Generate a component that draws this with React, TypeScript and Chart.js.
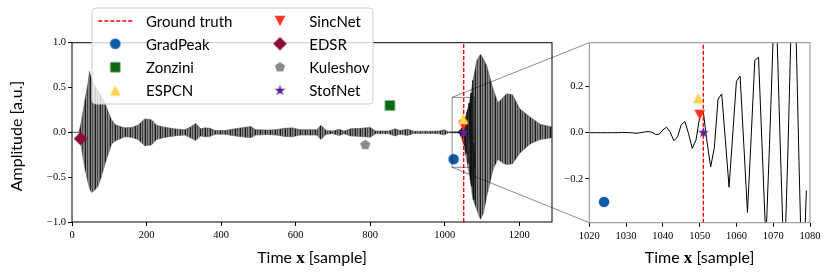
import React, { useEffect, useRef } from 'react';
import { Chart, registerables } from 'chart.js';
Chart.register(...registerables);

// ---------- data ----------
// envelope of the dense waveform (sample index, upper, lower)
const ENV_X = [0, 18, 22, 26, 35, 43, 47, 52, 60, 70, 79, 88, 97, 106, 115, 125, 141, 160, 177, 195, 213, 227, 245, 265, 285, 303, 318, 332, 345, 357, 370, 385, 410, 430, 455, 480, 493, 525, 548, 570, 590, 612, 640, 657, 668, 682, 700, 717, 730, 748, 775, 800, 815, 850, 867, 880, 900, 918, 960, 985, 998, 1010, 1035, 1041, 1046, 1051, 1056, 1061, 1066, 1071, 1076, 1086, 1096, 1104, 1113, 1122, 1130, 1143, 1155, 1166, 1182, 1202, 1229, 1256, 1288];
const ENV_UPPER = [0.002, 0.003, 0.06, 0.14, 0.37, 0.55, 0.68, 0.6, 0.53, 0.46, 0.4, 0.33, 0.23, 0.14, 0.09, 0.07, 0.05, 0.055, 0.08, 0.15, 0.14, 0.08, 0.06, 0.045, 0.035, 0.03, 0.06, 0.1, 0.04, 0.05, 0.045, 0.02, 0.02, 0.035, 0.05, 0.065, 0.03, 0.025, 0.03, 0.045, 0.05, 0.03, 0.03, 0.03, 0.08, 0.02, 0.015, 0.035, 0.015, 0.04, 0.045, 0.055, 0.015, 0.015, 0.04, 0.02, 0.035, 0.012, 0.012, 0.015, 0.03, 0.006, 0.006, 0.024, 0.05, 0.09, 0.17, 0.25, 0.33, 0.44, 0.58, 0.8, 0.87, 0.82, 0.74, 0.6, 0.48, 0.33, 0.38, 0.43, 0.42, 0.26, 0.17, 0.09, 0.06];
const ENV_LOWER = [-0.002, -0.003, -0.08, -0.19, -0.41, -0.56, -0.62, -0.67, -0.65, -0.6, -0.49, -0.36, -0.245, -0.13, -0.1, -0.08, -0.05, -0.055, -0.08, -0.15, -0.14, -0.08, -0.06, -0.045, -0.035, -0.03, -0.06, -0.09, -0.04, -0.05, -0.045, -0.02, -0.02, -0.035, -0.05, -0.06, -0.03, -0.025, -0.03, -0.045, -0.05, -0.03, -0.03, -0.03, -0.08, -0.02, -0.015, -0.035, -0.015, -0.04, -0.045, -0.055, -0.015, -0.015, -0.04, -0.02, -0.035, -0.012, -0.012, -0.015, -0.03, -0.006, -0.006, -0.02, -0.07, -0.15, -0.24, -0.35, -0.47, -0.6, -0.75, -0.86, -0.97, -0.9, -0.71, -0.55, -0.41, -0.3, -0.34, -0.36, -0.35, -0.23, -0.13, -0.08, -0.06];

// individual samples visible in the zoomed panel
const ZOOM_X = [1020, 1021, 1022, 1023, 1024, 1025, 1026, 1027, 1028, 1029, 1030, 1031, 1032, 1033, 1034, 1035, 1036, 1037, 1038, 1039, 1040, 1041, 1042, 1043, 1044, 1045, 1046, 1047, 1048, 1049, 1050, 1051, 1052, 1053, 1054, 1055, 1056, 1057, 1058, 1059, 1060, 1061, 1062, 1063, 1064, 1065, 1066, 1067, 1068, 1069, 1070, 1071, 1072, 1073, 1074, 1075, 1076, 1077, 1078, 1079];
const ZOOM_Y = [0, 0, 0, 0, 0, 0, 0, 0, 0, 0.001, 0.001, 0, -0.001, -0.002, 0, 0.003, 0.005, 0.002, -0.007, -0.007, 0.012, 0.024, 0.002, -0.035, -0.018, 0.035, 0.048, -0.005, -0.068, -0.032, 0.065, 0.09, -0.04, -0.148, -0.064, 0.146, 0.168, -0.034, -0.236, -0.006, 0.223, 0.245, -0.05, -0.345, -0.02, 0.314, 0.327, -0.07, -0.47, -0.05, 0.42, 0.44, -0.1, -0.6, -0.08, 0.55, 0.58, -0.12, -0.75, -0.25];

const GROUND_TRUTH_X = 1051;
const METHOD_NAMES = ['GradPeak', 'Zonzini', 'ESPCN', 'SincNet', 'EDSR', 'Kuleshov', 'StofNet'];
const METHOD_X = [1024, 853, 1049.6, 1050, 23, 787, 1051];
const METHOD_Y = [-0.3, 0.3, 0.15, 0.077, -0.07, -0.14, 0.0];
const METHOD_COLORS = ['#0C5DA5', '#086A10', '#FFD54E', '#FF3322', '#8B0A3C', '#8A8A8A', '#5C1F9E'];
const METHOD_SHAPES = ['circle', 'square', 'triUp', 'triDown', 'diamond', 'pentagon', 'star'];
const METHOD_SIZES = [5.3, 5, 5.3, 5.3, 6.8, 5.3, 5.8];

const MAIN_X_RANGE = [0, 1288];
const MAIN_Y_RANGE = [-1, 1];
const ZOOM_X_RANGE = [1020, 1080];
const ZOOM_Y_RANGE = [-0.39, 0.39];

// ---------- layout ----------
const W = 830, H = 277;
const MAIN_AREA = { left: 72, right: 552, top: 42.7, bottom: 222 };
const INSET_AREA = { left: 589.3, right: 810, top: 42.7, bottom: 222.7 };
const SANS = 'Lato, "Liberation Sans", sans-serif';
const SERIF = '"Liberation Serif", "DejaVu Serif", serif';

function markerPath(ctx: CanvasRenderingContext2D, shape: string, cx: number, cy: number, s: number) {
  ctx.beginPath();
  if (shape === 'circle') ctx.arc(cx, cy, s, 0, Math.PI * 2);
  else if (shape === 'square') ctx.rect(cx - s, cy - s, 2 * s, 2 * s);
  else if (shape === 'triUp') { ctx.moveTo(cx, cy - s); ctx.lineTo(cx + s, cy + s); ctx.lineTo(cx - s, cy + s); }
  else if (shape === 'triDown') { ctx.moveTo(cx, cy + s); ctx.lineTo(cx + s, cy - s); ctx.lineTo(cx - s, cy - s); }
  else if (shape === 'diamond') { ctx.moveTo(cx, cy - s); ctx.lineTo(cx + s, cy); ctx.lineTo(cx, cy + s); ctx.lineTo(cx - s, cy); }
  else if (shape === 'pentagon') {
    for (let k = 0; k < 5; k++) {
      const a = -Math.PI / 2 + (k * 2 * Math.PI) / 5;
      const px = cx + s * Math.cos(a), py = cy + s * Math.sin(a);
      if (k === 0) ctx.moveTo(px, py); else ctx.lineTo(px, py);
    }
  } else if (shape === 'star') {
    for (let k = 0; k < 10; k++) {
      const a = -Math.PI / 2 + (k * Math.PI) / 5;
      const r = k % 2 ? s * 0.381966 : s;
      const px = cx + r * Math.cos(a), py = cy + r * Math.sin(a);
      if (k === 0) ctx.moveTo(px, py); else ctx.lineTo(px, py);
    }
  }
  ctx.closePath();
}

function makeMarker(shape: string, color: string, s: number): HTMLCanvasElement {
  const size = Math.ceil(2 * s + 3);
  const c = document.createElement('canvas');
  c.width = size; c.height = size;
  const ctx = c.getContext('2d')!;
  ctx.fillStyle = color;
  markerPath(ctx, shape, size / 2, size / 2, s);
  ctx.fill();
  return c;
}

function fmtTick(v: number, digits: number) {
  return Number(v).toFixed(digits).replace('-', '\u2212');
}

function drawXTitle(ctx: CanvasRenderingContext2D, cx: number, baseline: number) {
  const parts = [
    { t: 'Time ', f: `16px ${SANS}` },
    { t: 'x', f: `bold 17px ${SERIF}` },
    { t: ' [sample]', f: `16px ${SANS}` },
  ];
  let total = 0;
  const widths = parts.map((p) => { ctx.font = p.f; const w = ctx.measureText(p.t).width; total += w; return w; });
  let x = cx - total / 2;
  ctx.fillStyle = '#000';
  ctx.textAlign = 'left';
  ctx.textBaseline = 'alphabetic';
  parts.forEach((p, i) => { ctx.font = p.f; ctx.fillText(p.t, x, baseline); x += widths[i]; });
}

export default function App() {
  const mainRef = useRef<HTMLCanvasElement>(null);
  const insetRef = useRef<HTMLCanvasElement>(null);

  useEffect(() => {
    const markers = METHOD_NAMES.map((_, i) => makeMarker(METHOD_SHAPES[i], METHOD_COLORS[i], METHOD_SIZES[i]));

    // stripe pattern imitating the dense oscillation
    const pc = document.createElement('canvas');
    pc.width = 5; pc.height = 1;
    const pctx = pc.getContext('2d')!;
    const stripe = ['#1a1a1a', '#8a8a8a', '#444444', '#8a8a8a', '#6a6a6a'];
    stripe.forEach((c, i) => { pctx.fillStyle = c; pctx.fillRect(i, 0, 1, 1); });
    const mctx = mainRef.current!.getContext('2d')!;
    const pattern = mctx.createPattern(pc, 'repeat')!;

    const upperPts = ENV_X.map((x, i) => ({ x, y: ENV_UPPER[i] }));
    const lowerPts = ENV_X.map((x, i) => ({ x, y: ENV_LOWER[i] }));
    const zoomPts = ZOOM_X.map((x, i) => ({ x, y: ZOOM_Y[i] }));

    const markerDatasets = (filterRange: number[] | null) =>
      METHOD_NAMES.map((name, i) => ({
        type: 'scatter' as const,
        label: name,
        data: (!filterRange || (METHOD_X[i] >= filterRange[0] && METHOD_X[i] <= filterRange[1])) ? [{ x: METHOD_X[i], y: METHOD_Y[i] }] : [],
        pointStyle: markers[i] as any,
        pointRadius: 6,
        pointHoverRadius: 6,
        order: 1,
      }));

    const tickFont = { family: SERIF, size: 10.5 };

    // ---------- inset ----------
    const insetPlugin = {
      id: 'insetDeco',
      afterDraw(chart: any) {
        const { ctx, chartArea: a } = chart;
        ctx.save();
        ctx.strokeStyle = '#8c8c8c';
        ctx.lineWidth = 1;
        ctx.strokeRect(a.left, a.top, a.right - a.left, a.bottom - a.top);
        drawXTitle(ctx, (a.left + a.right) / 2, 263.3);
        ctx.restore();
      },
    };

    const inset = new Chart(insetRef.current!, {
      type: 'scatter',
      data: {
        datasets: [
          ...markerDatasets(ZOOM_X_RANGE),
          {
            type: 'line', label: 'vline',
            data: [{ x: GROUND_TRUTH_X, y: ZOOM_Y_RANGE[0] }, { x: GROUND_TRUTH_X, y: ZOOM_Y_RANGE[1] }],
            borderColor: '#ff0000', borderWidth: 1.4, borderDash: [4, 2], pointRadius: 0, order: 2,
          },
          {
            type: 'line', label: 'signal', data: zoomPts,
            borderColor: '#000', borderWidth: 1, pointRadius: 0, order: 3,
          },
        ] as any,
      },
      options: {
        animation: false, responsive: false, events: [],
        plugins: { legend: { display: false }, tooltip: { enabled: false } },
        layout: { padding: { left: INSET_AREA.left - 30, right: W - INSET_AREA.right, top: INSET_AREA.top, bottom: 0 } },
        scales: {
          x: {
            type: 'linear', min: ZOOM_X_RANGE[0], max: ZOOM_X_RANGE[1],
            afterFit: (s: any) => { s.height = H - INSET_AREA.bottom; },
            grid: { display: true, drawOnChartArea: false, drawTicks: true, tickLength: 4, color: '#000' },
            border: { display: false },
            ticks: { stepSize: 10, includeBounds: false, font: tickFont, color: '#000', padding: 3, maxRotation: 0, autoSkip: false, callback: (v: any) => String(v) },
          },
          y: {
            type: 'linear', min: ZOOM_Y_RANGE[0], max: ZOOM_Y_RANGE[1],
            afterFit: (s: any) => { s.width = 30; },
            grid: { display: true, drawOnChartArea: false, drawTicks: true, tickLength: 4, color: '#000' },
            border: { display: false },
            ticks: { stepSize: 0.2, includeBounds: false, font: tickFont, color: '#000', padding: 2, callback: (v: any) => fmtTick(v, 1) },
          },
        },
      } as any,
      plugins: [insetPlugin],
    });

    // ---------- main ----------
    const mainPlugin = {
      id: 'mainDeco',
      afterDraw(chart: any) {
        const { ctx, chartArea: a, scales } = chart;
        const xs = scales.x, ys = scales.y;
        ctx.save();
        // axes frame
        ctx.strokeStyle = '#000';
        ctx.lineWidth = 1;
        ctx.strokeRect(a.left, a.top, a.right - a.left, a.bottom - a.top);
        // zoom indicator
        const rx0 = xs.getPixelForValue(ZOOM_X_RANGE[0]);
        const rx1 = xs.getPixelForValue(ZOOM_X_RANGE[1]);
        const ry0 = ys.getPixelForValue(ZOOM_Y_RANGE[1]);
        const ry1 = ys.getPixelForValue(ZOOM_Y_RANGE[0]);
        ctx.strokeStyle = 'rgba(0,0,0,0.45)';
        ctx.lineWidth = 1;
        ctx.strokeRect(rx0, ry0, rx1 - rx0, ry1 - ry0);
        const ia = inset.chartArea;
        ctx.beginPath();
        ctx.moveTo(rx0, ry0); ctx.lineTo(ia.left, ia.top);
        ctx.moveTo(rx0, ry1); ctx.lineTo(ia.left, ia.bottom);
        ctx.stroke();
        // legend
        const lx = a.left + 20, ly = 8, lw = 281, lh = 96;
        ctx.beginPath();
        const r = 4;
        ctx.moveTo(lx + r, ly);
        ctx.arcTo(lx + lw, ly, lx + lw, ly + lh, r);
        ctx.arcTo(lx + lw, ly + lh, lx, ly + lh, r);
        ctx.arcTo(lx, ly + lh, lx, ly, r);
        ctx.arcTo(lx, ly, lx + lw, ly, r);
        ctx.closePath();
        ctx.fillStyle = 'rgba(255,255,255,0.8)';
        ctx.fill();
        ctx.strokeStyle = '#cccccc';
        ctx.stroke();
        const entries = ['Ground truth', ...METHOD_NAMES];
        const rowY = [21, 43.7, 67.2, 90.5];
        const colHandle = [lx + 23.3, lx + 188];
        const colText = [lx + 54, lx + 217.3];
        ctx.font = `15px ${SANS}`;
        ctx.textAlign = 'left';
        ctx.textBaseline = 'middle';
        entries.forEach((label, k) => {
          const col = Math.floor(k / 4), row = k % 4;
          const hx = colHandle[col], hy = rowY[row];
          if (k === 0) {
            ctx.save();
            ctx.strokeStyle = '#ff0000';
            ctx.lineWidth = 1.4;
            ctx.setLineDash([4, 2]);
            ctx.beginPath();
            ctx.moveTo(hx - 17, hy); ctx.lineTo(hx + 17, hy);
            ctx.stroke();
            ctx.restore();
          } else {
            const m = markers[k - 1];
            ctx.drawImage(m, hx - m.width / 2, hy - m.height / 2);
          }
          ctx.fillStyle = '#000';
          ctx.fillText(label, colText[col], hy + 1);
        });
        // titles
        drawXTitle(ctx, (a.left + a.right) / 2, 263.3);
        ctx.save();
        ctx.translate(22, 136);
        ctx.rotate(-Math.PI / 2);
        ctx.font = `16px ${SANS}`;
        ctx.textAlign = 'center';
        ctx.textBaseline = 'alphabetic';
        ctx.fillStyle = '#000';
        ctx.fillText('Amplitude [a.u.]', 0, 0);
        ctx.restore();
        ctx.restore();
      },
    };

    const main = new Chart(mainRef.current!, {
      type: 'scatter',
      data: {
        datasets: [
          {
            type: 'line', label: 'upper', data: upperPts,
            borderColor: '#555555', borderWidth: 0.6, pointRadius: 0,
            fill: '+1', backgroundColor: pattern, order: 5,
          },
          {
            type: 'line', label: 'lower', data: lowerPts,
            borderColor: '#555555', borderWidth: 0.6, pointRadius: 0, fill: false, order: 5,
          },
          {
            type: 'line', label: 'signal', data: zoomPts,
            borderColor: '#111', borderWidth: 0.8, pointRadius: 0, order: 4,
          },
          {
            type: 'line', label: 'vline',
            data: [{ x: GROUND_TRUTH_X, y: MAIN_Y_RANGE[0] }, { x: GROUND_TRUTH_X, y: MAIN_Y_RANGE[1] }],
            borderColor: '#ff0000', borderWidth: 1.4, borderDash: [4, 2], pointRadius: 0, order: 2,
          },
          ...markerDatasets(null),
        ] as any,
      },
      options: {
        animation: false, responsive: false, events: [],
        plugins: { legend: { display: false }, tooltip: { enabled: false } },
        layout: { padding: { left: 0, right: W - MAIN_AREA.right, top: MAIN_AREA.top, bottom: 0 } },
        scales: {
          x: {
            type: 'linear', min: MAIN_X_RANGE[0], max: MAIN_X_RANGE[1],
            afterFit: (s: any) => { s.height = H - MAIN_AREA.bottom; },
            grid: { display: true, drawOnChartArea: false, drawTicks: true, tickLength: 4, color: '#000' },
            border: { display: false },
            ticks: { stepSize: 200, includeBounds: false, font: tickFont, color: '#000', padding: 3, maxRotation: 0, autoSkip: false, callback: (v: any) => String(v) },
          },
          y: {
            type: 'linear', min: MAIN_Y_RANGE[0], max: MAIN_Y_RANGE[1],
            afterFit: (s: any) => { s.width = MAIN_AREA.left; },
            grid: { display: true, drawOnChartArea: false, drawTicks: true, tickLength: 4, color: '#000' },
            border: { display: false },
            ticks: { stepSize: 0.5, includeBounds: false, font: tickFont, color: '#000', padding: 2, callback: (v: any) => fmtTick(v, 1) },
          },
        },
      } as any,
      plugins: [mainPlugin],
    });

    return () => { main.destroy(); inset.destroy(); };
  }, []);

  return (
    <div style={{ position: 'fixed', left: 0, top: 0, width: W, height: H, background: '#fff' }}>
      <canvas ref={mainRef} width={W} height={H} style={{ position: 'absolute', left: 0, top: 0 }} />
      <canvas ref={insetRef} width={W} height={H} style={{ position: 'absolute', left: 0, top: 0 }} />
    </div>
  );
}
